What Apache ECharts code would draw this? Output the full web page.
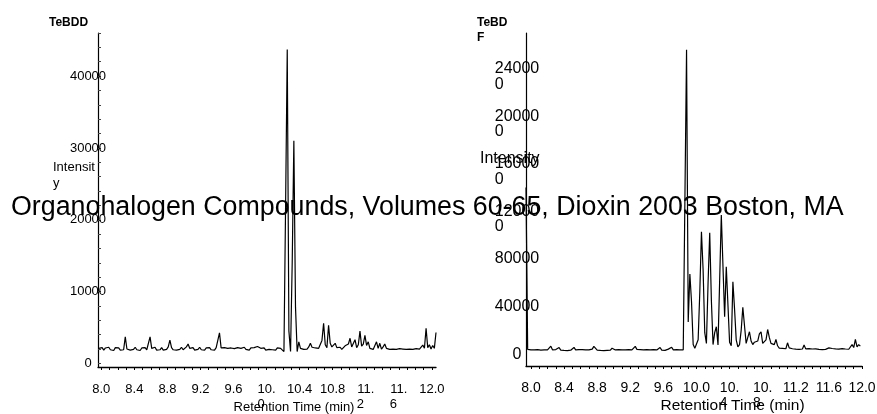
<!DOCTYPE html>
<html>
<head>
<meta charset="utf-8">
<script src="https://cdn.jsdelivr.net/npm/echarts@6/dist/echarts.min.js"></script>
<style>
html,body{margin:0;padding:0;background:#fff;}
#chart{width:877px;height:414px;}
</style>
</head>
<body>
<div id="chart"></div>
<script>
const FONT = '"Liberation Sans", Arial, Helvetica, sans-serif';

// TeBDD trace: sampled every 0.02 min starting at 7.97 min
const tebddStart = 7.97;
const tebddStep = 0.02;
const tebddIntensity = [
  2100, 1900, 2200, 1850, 2150, 1950, 2250, 1900, 2100, 1800,
  2200, 1950, 2150, 1850, 2050, 1900, 3700, 2000, 2200, 1850,
  2100, 1950, 2250, 1900, 2050, 1800, 2150, 1950, 2200, 1900,
  2000, 3700, 2100, 1950, 2250, 1850, 2100, 1900, 2200, 1850,
  2050, 1950, 2300, 3250, 2200, 1900, 2150, 1850, 2100, 1950,
  2250, 1900, 2050, 2300, 2700, 2100, 1900, 2200, 1850, 2100,
  1950, 2250, 1900, 2050, 1850, 2150, 1950, 2200, 1900, 2100,
  1850, 2200, 2000, 4250, 2150, 1900, 2200, 1950, 2100, 1850,
  2150, 1900, 2050, 1850, 2200, 1950, 2100, 1900, 2250, 1950,
  2050, 1850, 2150, 1950, 2200, 2000, 2350, 2550, 2100, 1900,
  2150, 1850, 2100, 1950, 2200, 1900, 2050, 1850, 2150, 1950,
  2100, 2000, 1650, 22000, 43700, 4500, 1650, 14000, 31000, 7800,
  1650, 3000, 2100, 2300, 1950, 2200, 2000, 2300, 2800, 2250,
  2000, 2150, 1950, 2100, 2200, 3200, 5600, 2600, 2200, 5300,
  2800, 2300, 2100, 2800, 2200, 2000, 2250, 1950, 2200, 2450,
  2300, 2700, 3500, 2300, 2500, 3300, 2200, 2600, 4500, 2400,
  2700, 3900, 2500, 3000, 2100, 2300, 1950, 2200, 3000, 2100,
  2800, 2000, 2300, 2700, 2100, 2250, 1950, 2100, 2000, 2200,
  1950, 2100, 2050, 2300, 2000, 2150, 1950, 2100, 2000, 2200,
  1950, 2150, 2050, 2300, 2000, 2250, 2550, 2100, 4900, 2200,
  2600, 2000, 2500, 2100, 4300
];

// TeBDF trace: sampled every 0.02 min starting at 7.94 min
const tebdfStart = 7.94;
const tebdfStep = 0.02;
const tebdfIntensity = [
  140000, 4000, 3200, 3600, 3100, 3500, 3000, 3800, 3200, 3400,
  3000, 3600, 3100, 3500, 4500, 6700, 3600, 3200, 3800, 4000,
  5500, 3400, 3800, 3100, 3500, 3000, 3700, 3300, 4500, 5600,
  3500, 3100, 3700, 3200, 3800, 3300, 3600, 3100, 3500, 3000,
  4200, 6500, 5200, 3400, 3800, 3100, 3500, 3000, 3600, 3200,
  3800, 3300, 5000, 5800, 3500, 3100, 3700, 3200, 3500, 3000,
  3600, 3200, 3800, 3300, 3500, 4500, 6500, 4000, 3400, 3800,
  3100, 3500, 3000, 3700, 3200, 3600, 3100, 3800, 3300, 3500,
  4200, 5600, 3400, 3800, 3100, 3600, 4200, 3500, 5800, 3600,
  3200, 3700, 3100, 3500, 3300, 3600, 4000, 256000, 27000, 67300,
  44000, 8000, 5000, 6100, 12000, 52000, 102800, 71000, 18000, 9000,
  60000, 102000, 45000, 8000, 18000, 23000, 7600, 62000, 116900, 74000,
  31400, 73400, 72000, 10000, 7000, 60800, 38000, 12000, 6100, 8000,
  20000, 39300, 24000, 9000, 14000, 18800, 11000, 8000, 10000, 8600,
  11000, 17000, 18800, 9000, 7600, 12000, 20700, 14000, 9000, 7500,
  8000, 12300, 7000, 5000, 6200, 4800, 5600, 4500, 9500, 5200,
  6000, 4500, 5200, 4200, 4800, 4000, 5000, 4300, 7600, 4400,
  4000, 4600, 3800, 4300, 3700, 4400, 4800, 4000, 4500, 3800,
  4600, 4000, 4500, 5200, 4100, 4700, 3900, 4400, 3700, 4200,
  3800, 4600, 4000, 4300, 5400, 4100, 4600, 8000, 5500, 12400,
  6000, 8000, 6700
];

// Axis ticks and their printed labels
const timeTickValues = [8.0, 8.4, 8.8, 9.2, 9.6, 10.0, 10.4, 10.8, 11.2, 11.6, 12.0];
const tebddTimeLabels = ['8.0', '8.4', '8.8', '9.2', '9.6', '10.\n0   ', '10.4', '10.8', '11.\n2   ', '11.\n6   ', '12.0'];
const tebdfTimeLabels = ['8.0', '8.4', '8.8', '9.2', '9.6', '10.0', '10.\n4   ', '10.\n8   ', '11.2', '11.6', '12.0'];
const tebddIntensityTicks = [0, 10000, 20000, 30000, 40000];
const tebddIntensityLabels = ['0', '10000', '20000', '30000', '40000'];
const tebdfIntensityTicks = [0, 40000, 80000, 120000, 160000, 200000, 240000];
const tebdfIntensityLabels = ['0', '40000', '80000', '\n12000\n0        ', '\n16000\n0        ', '\n20000\n0        ', '\n24000\n0        '];

const overlayText = 'Organohalogen Compounds, Volumes 60-65, Dioxin 2003 Boston, MA';

function toPairs(start, step, values) {
  return values.map((v, i) => [Math.round((start + i * step) * 1000) / 1000, v]);
}

// minor time ticks every 0.1 min
const minorTimeTicks = [];
for (let i = 80; i <= 120; i++) minorTimeTicks.push(i / 10);
const tebddMinorIntensityTicks = [];
for (let v = 0; v <= 46000; v += 2000) tebddMinorIntensityTicks.push(v);

function labelFor(values, labels) {
  return function (v) {
    for (let i = 0; i < values.length; i++) {
      if (Math.abs(values[i] - v) < 1e-6 * Math.max(1, Math.abs(v))) return labels[i];
    }
    return '';
  };
}

const black = '#000';

function timeAxis(gridIndex, min, max, labels, labelSize, nameSize, nameGap, namePad) {
  return {
    gridIndex: gridIndex,
    type: 'value',
    min: min,
    max: max,
    splitLine: { show: false },
    axisLine: { show: true, onZero: false, lineStyle: { color: black, width: 1.3 } },
    axisTick: { show: true, customValues: minorTimeTicks, length: 3, lineStyle: { color: black, width: 1 } },
    axisLabel: {
      color: black,
      fontSize: labelSize,
      fontFamily: FONT,
      customValues: timeTickValues,
      formatter: labelFor(timeTickValues, labels),
      margin: 15,
      lineHeight: 15,
      hideOverlap: false,
      showMinLabel: true,
      showMaxLabel: true
    },
    name: 'Retention Time (min)',
    nameLocation: 'middle',
    nameGap: nameGap,
    nameMoveOverlap: false,
    nameTextStyle: { color: black, fontSize: nameSize, fontFamily: FONT, padding: [0, 0, 0, namePad] }
  };
}

const chart = echarts.init(document.getElementById('chart'), null, { renderer: 'canvas' });

chart.setOption({
  animation: false,
  backgroundColor: '#fff',
  grid: [
    { left: 98, top: 33, width: 338, height: 334, containLabel: false, outerBoundsMode: 'none' },
    { left: 526, top: 33, width: 336, height: 333, containLabel: false, outerBoundsMode: 'none' }
  ],
  xAxis: [
    timeAxis(0, 7.96, 12.05, tebddTimeLabels, 13, 13, 34, 54),
    timeAxis(1, 7.94, 12.0, tebdfTimeLabels, 14, 15.5, 32, 77)
  ],
  yAxis: [
    {
      gridIndex: 0,
      type: 'value',
      min: -500,
      max: 46000,
      splitLine: { show: false },
      axisLine: { show: true, onZero: false, lineStyle: { color: black, width: 1.2 } },
      axisTick: { show: true, inside: true, customValues: tebddMinorIntensityTicks, length: 3, lineStyle: { color: '#444', width: 1 } },
      axisLabel: {
        color: black,
        fontSize: 13,
        fontFamily: FONT,
        customValues: tebddIntensityTicks,
        formatter: labelFor(tebddIntensityTicks, tebddIntensityLabels),
        align: 'center',
        margin: 10,
        hideOverlap: false
      }
    },
    {
      gridIndex: 1,
      type: 'value',
      min: -10000,
      max: 270000,
      splitLine: { show: false },
      axisLine: { show: true, onZero: false, lineStyle: { color: black, width: 1.2 } },
      axisTick: { show: false },
      axisLabel: {
        color: black,
        fontSize: 16,
        fontFamily: FONT,
        customValues: tebdfIntensityTicks,
        formatter: labelFor(tebdfIntensityTicks, tebdfIntensityLabels),
        align: 'center',
        margin: 9,
        lineHeight: 15.5,
        hideOverlap: false
      }
    }
  ],
  series: [
    {
      name: 'TeBDD',
      type: 'line',
      xAxisIndex: 0,
      yAxisIndex: 0,
      data: toPairs(tebddStart, tebddStep, tebddIntensity),
      showSymbol: false,
      symbol: 'none',
      lineStyle: { color: black, width: 1.2 },
      silent: true
    },
    {
      name: 'TeBDF',
      type: 'line',
      xAxisIndex: 1,
      yAxisIndex: 1,
      data: toPairs(tebdfStart, tebdfStep, tebdfIntensity),
      showSymbol: false,
      symbol: 'none',
      lineStyle: { color: black, width: 1.2 },
      silent: true
    }
  ],
  graphic: [
    { type: 'text', x: 49, y: 23, z: 10,
      style: { text: 'TeBDD', font: 'bold 12px ' + FONT, fill: black, textAlign: 'left', textVerticalAlign: 'middle' } },
    { type: 'text', x: 477, y: 15, z: 10,
      style: { text: 'TeBD\nF', font: 'bold 12px ' + FONT, fill: black, textAlign: 'left', textVerticalAlign: 'top', lineHeight: 15 } },
    { type: 'text', x: 53, y: 159, z: 10,
      style: { text: 'Intensit\ny', font: '13px ' + FONT, fill: black, textAlign: 'left', textVerticalAlign: 'top', lineHeight: 16 } },
    { type: 'text', x: 480, y: 159, z: 10,
      style: { text: 'Intensity', font: '16px ' + FONT, fill: black, textAlign: 'left', textVerticalAlign: 'middle' } },
    { type: 'text', x: 11, y: 208, z: 20,
      style: { text: overlayText, font: '26.8px ' + FONT, fill: black, textAlign: 'left', textVerticalAlign: 'middle' } }
  ]
});
</script>
</body>
</html>
